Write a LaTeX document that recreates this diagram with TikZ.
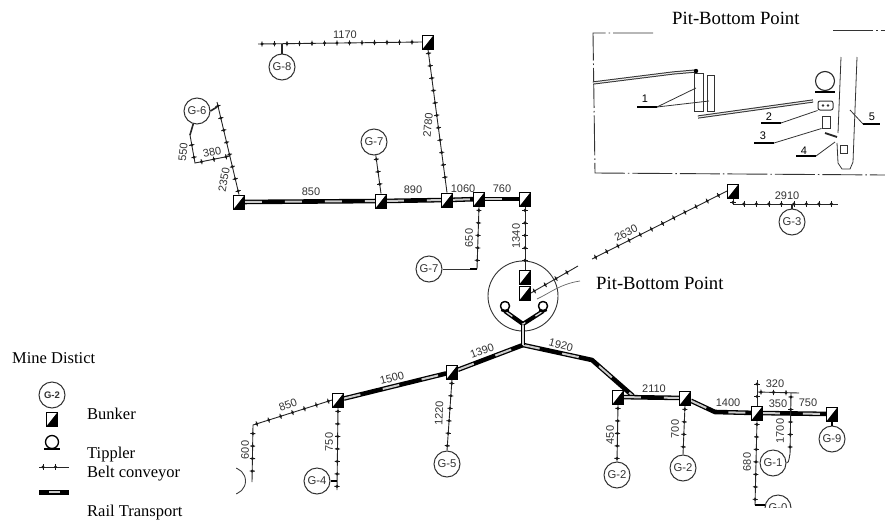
\documentclass[tikz,border=0pt]{standalone}
\usepackage{fontspec}
\setmainfont{Liberation Serif}
\setsansfont{Liberation Sans}
\usetikzlibrary{decorations.markings}
\tikzset{
  x=1pt,y=-1pt,
  belt/.style={draw=black!85,line width=.9pt,postaction={decorate},
    decoration={markings,mark=between positions 4pt and -3pt step 12.5pt with {\fill[black!90] (0,0) circle (1.7pt);\draw[black!90,line width=.8pt] (0,-2.6pt)--(0,2.6pt);}}},
  rail/.style={draw=black,line width=4.6pt,line join=round,postaction={draw=white!80!black,line width=2pt,dash pattern=on 17pt off 23pt}},
  gnode/.style={circle,draw=black!80,line width=1pt,fill=white,minimum size=26pt,inner sep=0pt,font=\sffamily\fontsize{11.3}{12}\selectfont,text=black!80},
  bunker/.style={rectangle,draw=black,line width=.8pt,fill=black,minimum width=11pt,minimum height=14pt,inner sep=0pt,
    path picture={\fill[white] (path picture bounding box.north west)--(path picture bounding box.north east)--(path picture bounding box.south west)--cycle;}},
  tippler/.style={circle,draw=black,line width=1.3pt,fill=white,minimum size=9pt,inner sep=0pt},
  num/.style={font=\sffamily\fontsize{11}{12}\selectfont,text=black!80,inner sep=0pt},
  captext/.style={font=\fontsize{18.7}{20}\selectfont,inner sep=0pt,anchor=base west},
  legendtext/.style={font=\fontsize{16.5}{18}\selectfont,inner sep=0pt,anchor=base west},
  insetline/.style={draw=black!80,line width=.8pt},
  dashbox/.style={draw=black!80,line width=.9pt,dash pattern=on 40pt off 3pt on 1.5pt off 3pt},
  underbar/.style={draw=black,line width=1.5pt},
  doubleline/.style={draw=black!80,line width=3.2pt,postaction={draw=white!90!black,line width=1.2pt}},
}
\begin{document}
\begin{tikzpicture}
\useasboundingbox (0,0) rectangle (885,525);
% ---- nodes of the main network
\node[bunker] (bA) at (428,42) {};
\node[bunker] (bB) at (239,202) {};
\node[bunker] (bC) at (381,201) {};
\node[bunker] (bD) at (447,200) {};
\node[bunker] (bE) at (479,199) {};
\node[bunker] (bF) at (525,199) {};
\node[bunker] (bG) at (525,277) {};
\node[bunker] (bH) at (525,293) {};
\node[bunker] (bI) at (733,191) {};
\node[bunker] (bJ) at (338,400) {};
\node[bunker] (bK) at (452,372) {};
\node[bunker] (bL) at (618,397) {};
\node[bunker] (bM) at (685,398) {};
\node[bunker] (bN) at (757,413) {};
\node[bunker] (bO) at (832,414) {};
\node[gnode] (g8) at (282,67) {G-8};
\node[gnode] (g6) at (197,111) {G-6};
\node[gnode] (g7a) at (374,142) {G-7};
\node[gnode] (g7b) at (429,269) {G-7};
\node[gnode] (g3) at (792,222) {G-3};
\node[gnode] (g4) at (317,481) {G-4};
\node[gnode] (g5) at (447,464) {G-5};
\node[gnode] (g2a) at (617,475) {G-2};
\node[gnode] (g2b) at (683,468) {G-2};
\node[gnode] (g1) at (773,463) {G-1};
\node[gnode] (g9) at (832,439) {G-9};
\begin{scope}
  \clip (740,480) rectangle (800,507);
  \node[gnode] (g0) at (778,508) {G-0};
\end{scope}
\begin{scope}
  \clip (236,465) rectangle (246,495);
  \node[circle,draw=black!75,line width=.9pt,minimum size=27pt,inner sep=0pt] (gx) at (232,481) {};
\end{scope}
\node[circle,draw=black!80,line width=.9pt,minimum size=70pt,inner sep=0pt] (hub) at (523,296) {};
\coordinate (c1170) at (258,44);
\coordinate (c1170j) at (282,44);
\coordinate (c66) at (217,102);
\coordinate (c67) at (217,107);
\coordinate (c61) at (230,156);
\coordinate (c62) at (195,163);
\coordinate (c63) at (190,135);
\coordinate (c71) at (477,269);
\coordinate (c31) at (733,204);
\coordinate (c32) at (838,204);
\coordinate (c33) at (792,204);
\coordinate (j) at (523,345);
\coordinate (j2) at (523,324);
\coordinate (s1) at (578,266);
\coordinate (s2) at (592,259);
\coordinate (c8a) at (253,425);
\coordinate (c8b) at (252,482);
\coordinate (c41) at (337,490);
\coordinate (c42) at (337,481);
\coordinate (r1) at (592,360);
\coordinate (r2) at (633,396);
\coordinate (r3) at (715,412);
\coordinate (c3a) at (757,380);
\coordinate (c3b) at (757,392);
\coordinate (c3c) at (799,393);
\coordinate (c3d) at (791,393);
\coordinate (c3e) at (790,455);
\coordinate (c6a) at (755,505);
\coordinate (c6b) at (765,505);
% ---- rails
\draw[rail] (bB) -- (bC);
\draw[rail] (bC) -- (bD);
\draw[rail] (bD) -- (bE);
\draw[rail] (bE) -- (bF);
\draw[rail] (bJ) -- (bK);
\draw[rail] (bK) -- (j);
\draw[rail] (j) -- (r1) -- (r2);
\draw[rail] (bL) -- (bM);
\draw[rail] (bM) -- (r3) -- (bN);
\draw[rail] (bN) -- (bO);
\draw[draw=black,line width=3.6pt,postaction={draw=white!85!black,line width=1.3pt}] (j) -- (j2);
% hub tipplers
\node[tippler] (t1) at (505,306) {};
\node[tippler] (t2) at (543,306) {};
\draw[draw=black,line width=4.2pt,postaction={draw=white!85!black,line width=1.3pt,dash pattern=on 9pt off 12pt}] (t1.south) -- (j2);
\draw[draw=black,line width=4.2pt,postaction={draw=white!85!black,line width=1.3pt,dash pattern=on 9pt off 12pt}] (t2.south) -- (j2);
\draw[black,line width=3pt] (t1.south west) -- (t1.south) -- (t1.south east);
\draw[black,line width=3pt] (t2.south west) -- (t2.south) -- (t2.south east);
\node[tippler] at (505,306) {};
\node[tippler] at (543,306) {};
% ---- belts
\draw[belt] (c1170) -- (bA.west);
\draw[belt] (bA.south) -- (bD.north);
\draw[belt] (c66) -- (bB.north);
\draw[belt] (c61) -- (c62) -- (c63);
\draw[belt] (g7a) -- (bC.north);
\draw[belt] (bE.south) -- (c71);
\draw[belt] (bF.south) -- (bG.north);
\draw[belt] (bH.east) -- (s1);
\draw[belt] (s2) -- (bI.west);
\draw[belt] (bI.south) -- (c31) -- (c32);
\draw[belt] (bJ.west) -- (c8a) -- (c8b);
\draw[belt] (bJ.south) -- (c41);
\draw[belt] (bK.south) -- (g5.north);
\draw[belt] (bL.south) -- (g2a.north);
\draw[belt] (bM.south) -- (g2b.north);
\draw[belt] (bN.south) -- (c6a);
\draw[belt] (c3a) -- (bN.north);
\draw[belt] (c3b) -- (c3c);
\draw[belt] (c3d) -- (c3e);
% plain connectors
\draw[black!85,line width=2.2pt] (c1170j) -- (g8.north);
\draw[black!85,line width=1.6pt] (g6.east) -- (c67);
\draw[black!85,line width=1.6pt] (g6) -- (c63);
\draw[black!80,line width=.9pt] (g7b.east) -- (c71);
\draw[black,line width=2.6pt] ([xshift=-7pt]c71) -- (c71);
\draw[black!85,line width=1.6pt] (c33) -- (g3.north);
\draw[black,line width=2.6pt] (g4.east) -- (c42);
\draw[black,line width=2.6pt] (bO.south) -- (g9.north);
\draw[black!80,line width=.9pt] (c3e) to[out=100,in=-20] (g1.east);
\draw[black,line width=2pt] (c6a) -- (c6b);
% bunkers over lines
\foreach \p in {{428,42},{239,202},{381,201},{447,200},{479,199},{525,199},{525,277},{525,293},{338,400},{452,372},{618,397},{685,398},{757,413},{832,414},{733,191}}
  \node[bunker] at (\p) {};
% ---- hub leader
\coordinate (l0) at (537,299);
\coordinate (l1) at (580,281);
\draw[black!60,line width=.7pt] (l0) .. controls (550,293) and (560,284) .. (l1);
% ---- numbers
\node[num] at (345,35) {1170};
\node[num,rotate=85] at (428,125) {2780};
\node[num] at (311,192) {850};
\node[num] at (413,190) {890};
\node[num] at (463,189) {1060};
\node[num] at (502,189) {760};
\node[num,rotate=12] at (212,152) {380};
\node[num,rotate=85] at (183,152) {550};
\node[num,rotate=80] at (224,180) {2350};
\node[num,rotate=90] at (469,238) {650};
\node[num,rotate=90] at (516,236) {1340};
\node[num,rotate=27] at (626,233) {2630};
\node[num] at (787,196) {2910};
\node[num,rotate=20] at (482,351) {1390};
\node[num,rotate=-15] at (561,345) {1920};
\node[num,rotate=15] at (392,378) {1500};
\node[num,rotate=20] at (288,405) {850};
\node[num,rotate=90] at (245,450) {600};
\node[num,rotate=90] at (329,442) {750};
\node[num,rotate=88] at (439,413) {1220};
\node[num] at (654,389) {2110};
\node[num] at (728,403) {1400};
\node[num] at (778,404) {350};
\node[num] at (808,403) {750};
\node[num] at (775,384) {320};
\node[num,rotate=90] at (610,435) {450};
\node[num,rotate=90] at (675,429) {700};
\node[num,rotate=90] at (780,431) {1700};
\node[num,rotate=90] at (747,462) {680};
% ---- captions
\node[captext] (capA) at (672,24) {Pit-Bottom Point};
\node[captext] (capB) at (596,289) {Pit-Bottom Point};
% ---- inset
\coordinate (a1) at (653,33);
\coordinate (a2) at (593,33);
\coordinate (a3) at (595,173);
\coordinate (a4) at (885,175);
\coordinate (a5) at (833,30);
\coordinate (a6) at (885,30);
\draw[dashbox] (a1) -- (a2) -- (a3) -- (a4);
\draw[dashbox] (a5) -- (a6);
\coordinate (r11) at (593,83);
\coordinate (r12) at (673,73);
\coordinate (r13) at (696,71);
\draw[doubleline] (r11) -- (r12) -- (r13);
\fill[black] (r13) circle (2.2pt);
\node[draw=black!80,line width=.9pt,minimum width=9pt,minimum height=38pt,inner sep=0pt] (w1) at (698.5,92) {};
\node[draw=black!80,line width=.9pt,minimum width=7pt,minimum height=36pt,inner sep=0pt] (w2) at (710.5,93) {};
\coordinate (r21) at (698,117);
\coordinate (r22) at (813,101);
\draw[doubleline] (r21) -- (r22);
\node[circle,draw=black!85,line width=1.1pt,minimum size=19pt,inner sep=0pt] (tip) at (825,81) {};
\coordinate (tb1) at (815,92);
\coordinate (tb2) at (835,92);
\draw[black,line width=2pt] (tb1) -- (tb2);
\node[draw=black!80,line width=1pt,rounded corners=2pt,minimum width=15pt,minimum height=9pt,inner sep=0pt] (bell) at (825.5,105.5) {};
\fill[black!80] (bell.center) ++(-2.5pt,0) circle (1.3pt) ++(5pt,0) circle (1.3pt);
\node[draw=black!80,line width=1pt,minimum width=8pt,minimum height=12pt,inner sep=0pt] (box3) at (826,122) {};
\coordinate (sk1) at (825,133);
\coordinate (sk2) at (837,137);
\draw[black!85,line width=1.8pt] (sk1) -- (sk2);
\node[draw=black!80,line width=.9pt,minimum width=7pt,minimum height=8pt,inner sep=0pt] (sk3) at (843.5,149) {};
\coordinate (s01) at (841,57); \coordinate (s02) at (838,133);
\coordinate (s03) at (837,143); \coordinate (s04) at (838,163);
\coordinate (s05) at (842,169); \coordinate (s06) at (850,169);
\coordinate (s07) at (853,162); \coordinate (s08) at (857,57);
\draw[insetline] (s01) -- (s02);
\draw[insetline] (s03) -- (s04) -- (s05) -- (s06) -- (s07) -- (s08);
% inset labels
\node[num,text=black] (n1) at (645,99) {1};
\node[num,text=black] (n2) at (769,117) {2};
\node[num,text=black] (n3) at (763,136) {3};
\node[num,text=black] (n4) at (804,151) {4};
\node[num,text=black] (n5) at (872,117) {5};
\coordinate (u1a) at (637,107); \coordinate (u1b) at (657,107);
\coordinate (u2a) at (761,123); \coordinate (u2b) at (781,123);
\coordinate (u3a) at (754,143); \coordinate (u3b) at (774,143);
\coordinate (u4a) at (796,156); \coordinate (u4b) at (816,156);
\coordinate (u5a) at (863,124); \coordinate (u5b) at (880,124);
\draw[underbar] (u1a) -- (u1b);
\draw[underbar] (u2a) -- (u2b);
\draw[underbar] (u3a) -- (u3b);
\draw[underbar] (u4a) -- (u4b);
\draw[underbar] (u5a) -- (u5b);
\coordinate (lp1) at (696,88); \coordinate (lp1b) at (709,101);
\draw[insetline] (u1b) -- (lp1);
\draw[insetline] (u1b) -- (lp1b);
\draw[insetline] (u2b) -- (bell.south west);
\draw[insetline] (u3b) -- (box3.south west);
\coordinate (lp4) at (835,142);
\draw[insetline] (u4b) -- (lp4);
\coordinate (lp5) at (850,110);
\draw[insetline] (u5a) -- (lp5);
% ---- legend
\node[legendtext] (lg0) at (12,363) {Mine Distict};
\node[gnode,minimum size=26pt,font=\sffamily\bfseries\fontsize{9.5}{11}\selectfont] (lgG) at (52,395) {G-2};
\node[bunker] (lgB) at (52,419) {};
\node[legendtext] (lg1) at (87,419) {Bunker};
\node[tippler,minimum size=13pt] (lgT) at (52,442) {};
\coordinate (lgTa) at (44,449); \coordinate (lgTb) at (60,449);
\draw[black,line width=2.2pt] (lgTa) -- (lgTb);
\node[legendtext] (lg2) at (87,458) {Tippler};
\coordinate (lgBa) at (39,467); \coordinate (lgBb) at (69,467);
\draw[belt] (lgBa) -- (lgBb);
\node[legendtext] (lg3) at (87,477) {Belt conveyor};
\coordinate (lgRa) at (39,492); \coordinate (lgRb) at (69,492);
\draw[black,line width=5pt] (lgRa) -- (lgRb);
\coordinate (lgWa) at (49,492); \coordinate (lgWb) at (60,492);
\draw[white!80!black,line width=1.6pt] (lgWa) -- (lgWb);
\node[legendtext] (lg4) at (87,516) {Rail Transport};
\end{tikzpicture}
\end{document}
